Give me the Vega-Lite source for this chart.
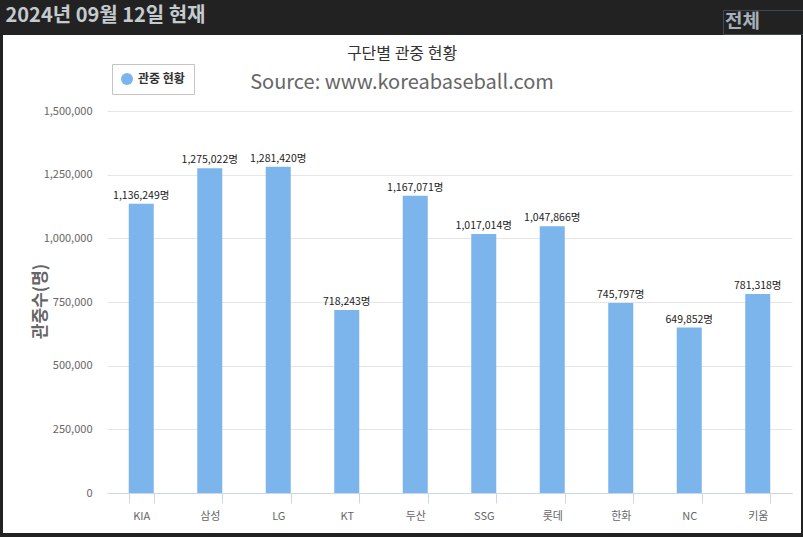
{
  "$schema": "https://vega.github.io/schema/vega-lite/v6.json",
  "width": 798,
  "height": 498,
  "autosize": {"type": "none"},
  "padding": {"left": 3, "top": 35, "right": 2, "bottom": 4},
  "background": "#222222",
  "config": {
    "view": {"fill": "white", "stroke": null},
    "font": "Noto Sans CJK KR"
  },
  "title": {
    "text": "구단별 관중 현황",
    "subtitle": "Source: www.koreabaseball.com",
    "anchor": "middle",
    "frame": "group",
    "offset": -88,
    "font": "Noto Sans CJK KR",
    "fontSize": 16,
    "fontWeight": "normal",
    "color": "#333333",
    "subtitleFont": "Noto Sans CJK KR",
    "subtitleFontSize": 20,
    "subtitleColor": "#666666",
    "subtitlePadding": 11
  },
  "data": {
    "values": [
      {"team": "KIA", "value": 1136249, "label": "1,136,249명"},
      {"team": "삼성", "value": 1275022, "label": "1,275,022명"},
      {"team": "LG", "value": 1281420, "label": "1,281,420명"},
      {"team": "KT", "value": 718243, "label": "718,243명"},
      {"team": "두산", "value": 1167071, "label": "1,167,071명"},
      {"team": "SSG", "value": 1017014, "label": "1,017,014명"},
      {"team": "롯데", "value": 1047866, "label": "1,047,866명"},
      {"team": "한화", "value": 745797, "label": "745,797명"},
      {"team": "NC", "value": 649852, "label": "649,852명"},
      {"team": "키움", "value": 781318, "label": "781,318명"}
    ]
  },
  "encoding": {
    "x": {
      "field": "team",
      "type": "nominal",
      "sort": null,
      "scale": {"range": [104, 789], "paddingInner": 0.635, "paddingOuter": 0.3175},
      "axis": {
        "title": "2024년 09월 12일 현재",
        "titleX": 2,
        "titleY": -478,
        "titleAlign": "left",
        "titleBaseline": "middle",
        "titleFont": "Noto Sans CJK KR",
        "titleFontSize": 20,
        "titleFontWeight": "bold",
        "titleColor": "#c5cacf",
        "offset": -40,
        "labelAngle": 0,
        "labelFont": "Noto Sans CJK KR",
        "labelFontSize": 11,
        "labelColor": "#666666",
        "labelPadding": 7,
        "tickSize": 10,
        "tickColor": "#ccd6eb",
        "domainColor": "#ccd6eb",
        "tickBand": "extent",
        "grid": false
      }
    },
    "y": {
      "field": "value",
      "type": "quantitative",
      "scale": {"domain": [0, 1500000], "range": [458, 76], "nice": false, "zero": true},
      "axis": {
        "title": "관중수(명)",
        "titleX": 37,
        "titleY": 266,
        "titleAngle": -90,
        "titleAlign": "center",
        "titleBaseline": "middle",
        "titleFont": "Noto Sans CJK KR",
        "titleFontSize": 17,
        "titleFontWeight": "bold",
        "titleColor": "#666666",
        "values": [0, 250000, 500000, 750000, 1000000, 1250000, 1500000],
        "format": ",d",
        "labelPadding": -89,
        "tickSize": 0,
        "ticks": false,
        "domain": false,
        "gridColor": "#e6e6e6",
        "labelFont": "Noto Sans CJK KR",
        "labelFontSize": 11,
        "labelColor": "#666666"
      }
    }
  },
  "layer": [
    {
      "mark": {"type": "bar"},
      "encoding": {
        "color": {
          "datum": "관중 현황",
          "scale": {"range": ["#7cb5ec"]},
          "legend": {
            "orient": "none",
            "legendX": 109,
            "legendY": 29,
            "title": null,
            "symbolType": "circle",
            "symbolSize": 144,
            "symbolStrokeWidth": 0,
            "labelFont": "Noto Sans CJK KR",
            "labelFontSize": 12,
            "labelFontWeight": "bold",
            "labelColor": "#333333",
            "labelOffset": 5,
            "padding": 9,
            "strokeColor": "#c4c4c4",
            "fillColor": "white"
          }
        },
        "opacity": {
          "datum": "전체",
          "type": "ordinal",
          "scale": {"range": [1, 1]},
          "legend": {
            "orient": "none",
            "legendX": 720,
            "legendY": -25,
            "title": "전체",
            "titleOrient": "left",
            "titleFont": "Noto Sans CJK KR",
            "titleFontSize": 19,
            "titleFontWeight": "bold",
            "titleColor": "#a5b0b9",
            "titlePadding": 4,
            "symbolType": "circle",
            "symbolSize": 0,
            "symbolOpacity": 0,
            "symbolFillColor": "#222222",
            "symbolStrokeWidth": 0,
            "labelExpr": "''",
            "labelOffset": 46,
            "labelFont": "Noto Sans CJK KR",
            "labelFontSize": 19,
            "labelColor": "#222222",
            "padding": 2,
            "strokeColor": "#3d4a55",
            "fillColor": "#222222"
          }
        }
      }
    },
    {
      "mark": {"type": "text", "baseline": "bottom", "dy": -3, "font": "Noto Sans CJK KR", "fontSize": 10.5, "color": "#222222"},
      "encoding": {"text": {"field": "label"}}
    }
  ]
}
